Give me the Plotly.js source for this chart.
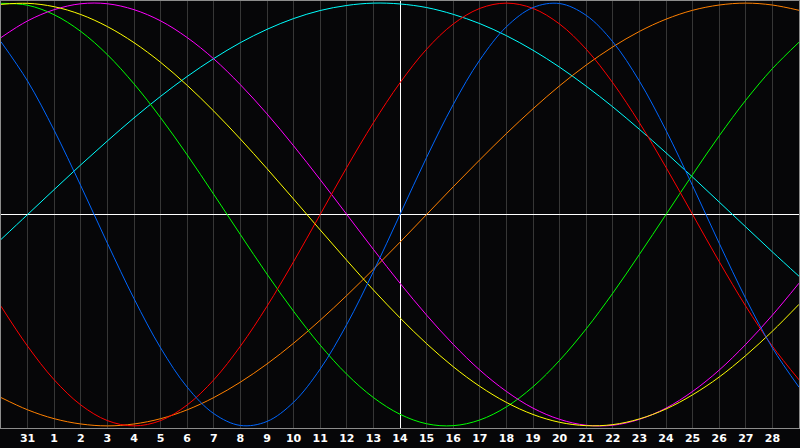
<!DOCTYPE html>
<html>
<head>
<meta charset="utf-8">
<script src="https://cdn.plot.ly/plotly-3.0.1.min.js"></script>
<style>
  html, body { margin: 0; padding: 0; background: #060608; }
  #chart { width: 800px; height: 448px; }
</style>
</head>
<body>
<div id="chart"></div>
<script>
// Day index along the x axis (0 = 30th of previous month ... 30 = 1st of next month)
const dayIndex = [0,1,2,3,4,5,6,7,8,9,10,11,12,13,14,15,16,17,18,19,20,21,22,23,24,25,26,27,28,29,30];
// Tick positions and labels (day of month)
const tickPos = [1,2,3,4,5,6,7,8,9,10,11,12,13,14,15,16,17,18,19,20,21,22,23,24,25,26,27,28,29];
const tickLabels = ["31","1","2","3","4","5","6","7","8","9","10","11","12","13","14","15","16","17","18","19","20","21","22","23","24","25","26","27","28"];
const todayIndex = 15;

// Series values (range -1 .. 1)
const blueVals = [0.817,0.631,0.398,0.136,-0.136,-0.398,-0.631,-0.817,-0.942,-0.998,-0.979,-0.888,-0.731,-0.520,-0.270,0,0.270,0.520,0.731,0.888,0.979,0.998,0.942,0.817,0.631,0.398,0.136,-0.136,-0.398,-0.631,-0.817];
const redVals = [-0.434,-0.623,-0.782,-0.901,-0.975,-1,-0.975,-0.901,-0.782,-0.623,-0.434,-0.223,0,0.223,0.434,0.623,0.782,0.901,0.975,1,0.975,0.901,0.782,0.623,0.434,0.223,0,-0.223,-0.434,-0.623,-0.782];
const greenVals = [0.999,0.990,0.945,0.866,0.756,0.618,0.458,0.282,0.095,-0.095,-0.282,-0.458,-0.618,-0.756,-0.866,-0.945,-0.990,-0.999,-0.972,-0.910,-0.815,-0.690,-0.541,-0.372,-0.189,0,0.189,0.372,0.541,0.690,0.815];
const magentaVals = [0.837,0.916,0.969,0.997,0.997,0.969,0.916,0.837,0.736,0.614,0.476,0.325,0.165,0,-0.165,-0.325,-0.476,-0.614,-0.736,-0.837,-0.916,-0.969,-0.997,-0.997,-0.969,-0.916,-0.837,-0.736,-0.614,-0.476,-0.325];
const yellowVals = [0.994,0.999,0.983,0.946,0.889,0.813,0.720,0.611,0.489,0.357,0.217,0.073,-0.073,-0.217,-0.357,-0.489,-0.611,-0.720,-0.813,-0.889,-0.946,-0.983,-0.999,-0.994,-0.967,-0.920,-0.853,-0.769,-0.667,-0.552,-0.425];
const orangeVals = [-0.866,-0.924,-0.966,-0.991,-1,-0.991,-0.966,-0.924,-0.866,-0.793,-0.707,-0.609,-0.5,-0.383,-0.259,-0.131,0,0.131,0.259,0.383,0.5,0.609,0.707,0.793,0.866,0.924,0.966,0.991,1,0.991,0.966];
const cyanVals = [-0.118,0,0.118,0.235,0.348,0.457,0.559,0.653,0.738,0.813,0.876,0.927,0.965,0.989,1.000,0.996,0.979,0.947,0.903,0.846,0.777,0.697,0.607,0.509,0.403,0.292,0.177,0.059,-0.059,-0.177,-0.292];

const series = [
  {vals: cyanVals, color: '#00ffff'},
  {vals: orangeVals, color: '#ff8000'},
  {vals: greenVals, color: '#00ff00'},
  {vals: magentaVals, color: '#ff00ff'},
  {vals: yellowVals, color: '#ffff00'},
  {vals: redVals, color: '#ff0000'},
  {vals: blueVals, color: '#0066ff'}
];

// Helper overlay axis whose zero line marks "today" (crisp white vertical line)
const traces = [{
  x: [], y: [], xaxis: 'x2', yaxis: 'y',
  type: 'scatter', mode: 'lines', hoverinfo: 'skip', showlegend: false
}].concat(series.map(s => ({
  x: dayIndex,
  y: s.vals,
  type: 'scatter',
  mode: 'lines',
  line: {color: s.color, width: 1, shape: 'spline', smoothing: 1},
  hoverinfo: 'skip',
  showlegend: false
})));

const layout = {
  width: 800,
  height: 448,
  margin: {l: 1, r: 1, t: 1, b: 20, pad: 0},
  paper_bgcolor: '#060608',
  plot_bgcolor: '#060608',
  showlegend: false,
  xaxis: {
    range: [0, 30],
    tickmode: 'array',
    tickvals: tickPos,
    ticktext: tickLabels,
    showgrid: true,
    gridcolor: '#363636',
    gridwidth: 1,
    zeroline: false,
    ticks: '',
    showline: true,
    linecolor: '#8c8c8c',
    linewidth: 1,
    mirror: true,
    tickfont: {family: 'DejaVu Sans', size: 11, color: '#ffffff', weight: 'bold'},
    fixedrange: true
  },
  xaxis2: {
    overlaying: 'x',
    range: [0 - todayIndex, 30 - todayIndex],
    showgrid: false,
    showticklabels: false,
    ticks: '',
    showline: false,
    zeroline: true,
    zerolinecolor: '#ffffff',
    zerolinewidth: 1,
    fixedrange: true
  },
  yaxis: {
    range: [-1.01, 1.01],
    showgrid: false,
    showticklabels: false,
    ticks: '',
    zeroline: true,
    zerolinecolor: '#ffffff',
    zerolinewidth: 1,
    showline: true,
    linecolor: '#8c8c8c',
    linewidth: 1,
    mirror: true,
    fixedrange: true
  }
};

Plotly.newPlot('chart', traces, layout, {staticPlot: true, displayModeBar: false});
</script>
</body>
</html>
